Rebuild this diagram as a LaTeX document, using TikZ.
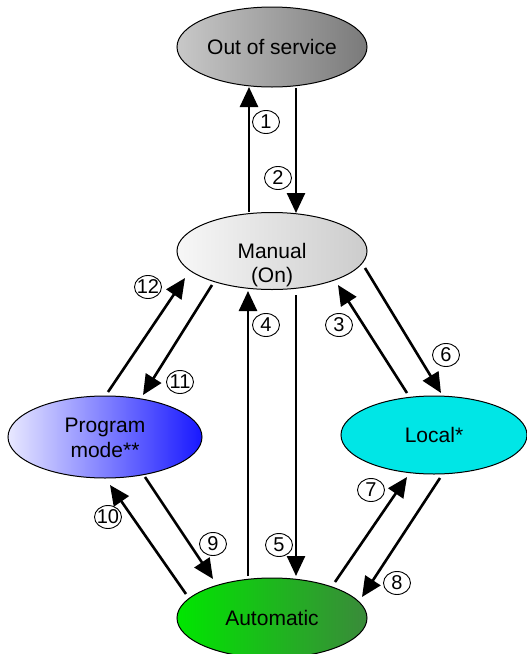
\documentclass[tikz,border=0pt]{standalone}
\usepackage{fontspec}
\setmainfont{Liberation Sans}
\usetikzlibrary{shapes.geometric,arrows.meta,calc}
\definecolor{oosL}{HTML}{C8C8C8}
\definecolor{oosR}{HTML}{7A7A7A}
\definecolor{manL}{HTML}{F7F7F7}
\definecolor{manR}{HTML}{CCCCCC}
\definecolor{prgL}{HTML}{E8E8FF}
\definecolor{prgR}{HTML}{1818FF}
\definecolor{locC}{HTML}{00E6E6}
\definecolor{autL}{HTML}{00E600}
\definecolor{autR}{HTML}{3A8A3A}
\begin{document}
\begin{tikzpicture}[x=1pt,y=-1pt,
  state/.style={ellipse, draw=black, line width=1pt, inner sep=0pt,
    minimum width=190pt, minimum height=80pt,
    font=\fontsize{21}{25}\selectfont, align=center},
  num/.style={ellipse, draw=black, line width=0.9pt, inner xsep=-2pt, inner ysep=0pt,
    minimum width=27pt, minimum height=23pt,
    font=\fontsize{20}{20}\selectfont},
  flow/.style={line width=2.6pt, -{Triangle[length=20pt,width=18pt]}},
]
\useasboundingbox (0,0) rectangle (527,654);

\node[state, left color=oosL, right color=oosR] (oos) at (272,47) {Out of service};
\node[state, left color=manL, right color=manR, minimum height=77pt, align=none,
  font=\fontsize{21}{24.5}\selectfont] (man) at (272,251)
  {\raisebox{-20pt}[0pt][0pt]{\begin{tabular}{@{}c@{}}Manual\\(On)\end{tabular}}};
\node[state, left color=prgL, right color=prgR, minimum width=194pt, minimum height=82pt,
  align=none] (prg) at (105,437)
  {\raisebox{-8pt}[0pt][0pt]{\begin{tabular}{@{}c@{}}Program\\mode**\end{tabular}}};
\node[state, fill=locC, minimum width=186pt, minimum height=78pt] (loc) at (434,435) {Local*};
\node[state, left color=autL, right color=autR] (aut) at (272,618) {Automatic};

% connectors
\draw[flow] ($(man)+(-23,-39)$) -- ($(oos)+(-23,40)$);
\draw[flow] ($(oos)+(24,41)$) -- ($(man)+(24,-38)$);
\draw[flow] ($(aut)+(-24,-42)$) -- ($(man)+(-24,40)$);
\draw[flow] ($(man)+(24,44)$) -- ($(aut)+(24,-42)$);
\draw[flow] ($(prg)+(3,-45)$) -- ($(man)+(-87,27)$);
\draw[flow] ($(man)+(-60,34)$) -- ($(prg)+(38,-42)$);
\draw[flow] ($(loc)+(-27,-42)$) -- ($(man)+(66,34)$);
\draw[flow] ($(man)+(93,17)$) -- ($(loc)+(7,-42)$);
\draw[flow] ($(aut)+(-86,-24)$) -- ($(prg)+(5,48)$);
\draw[flow] ($(prg)+(40,40)$) -- ($(aut)+(-59,-39)$);
\draw[flow] ($(aut)+(63,-36)$) -- ($(loc)+(-27,42)$);
\draw[flow] ($(loc)+(6,43)$) -- ($(aut)+(90,-21)$);

% numbers
\node[num] (n1) at (266,122) {1};
\node[num] (n2) at (278,178) {2};
\node[num] (n3) at (339,325) {3};
\node[num] (n4) at (266,325) {4};
\node[num] (n5) at (279,545) {5};
\node[num] (n6) at (446,355) {6};
\node[num] (n7) at (371,490) {7};
\node[num] (n8) at (397,583) {8};
\node[num] (n9) at (213,544) {9};
\node[num] (n10) at (108,517) {10};
\node[num] (n11) at (180,382) {11};
\node[num] (n12) at (148,287) {12};
\end{tikzpicture}
\end{document}
